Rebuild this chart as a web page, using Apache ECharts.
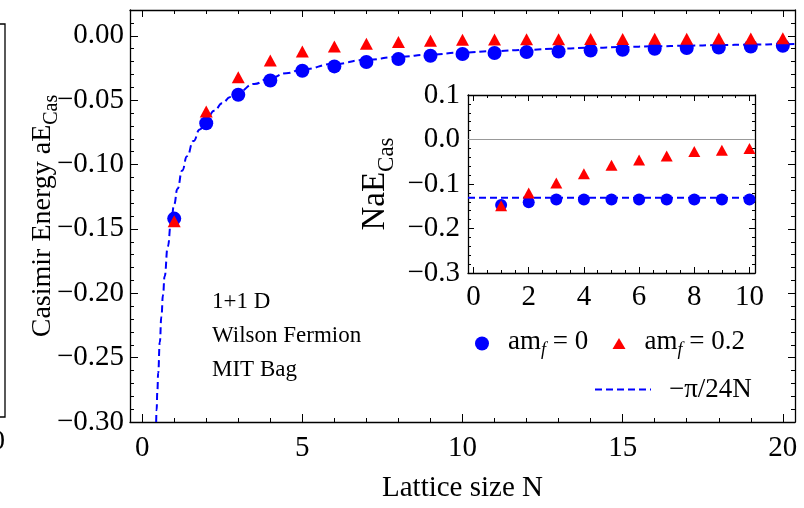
<!DOCTYPE html>
<html><head><meta charset="utf-8">
<script src="https://cdn.jsdelivr.net/npm/echarts@6/dist/echarts.min.js"></script>
<style>html,body{margin:0;padding:0;background:#fff}#c{width:804px;height:508px}</style>
</head><body><div id="c"></div>
<script>
// ---- main panel data ----
const latticeN = [1,2,3,4,5,6,7,8,9,10,11,12,13,14,15,16,17,18,19,20];
const energyMass0 = [-0.142,-0.068,-0.0458,-0.0347,-0.0272,-0.0238,-0.0204,-0.0181,-0.0155,-0.0142,-0.0134,-0.0127,-0.0122,-0.0114,-0.0109,-0.0101,-0.0096,-0.0091,-0.0083,-0.0078];
const energyMass02 = [-0.144,-0.0589,-0.0322,-0.0193,-0.0123,-0.0083,-0.0063,-0.0048,-0.0038,-0.0031,-0.0030,-0.0028,-0.0027,-0.0026,-0.0025,-0.0024,-0.0023,-0.0022,-0.0021,-0.0020];
// -pi/24N reference curve, sampled values
const curveN = [0.4363,0.45,0.475,0.5,0.55,0.6,0.65,0.7,0.8,0.9,1.0,1.1,1.25,1.4,1.6,1.8,2.0,2.25,2.5,2.75,3.0,3.5,4.0,4.5,5,6,7,8,9,10,11,12,13,14,15,16,17,18,19,20,20.38];
const curveE = [-0.3000,-0.29089,-0.27558,-0.26180,-0.23800,-0.21817,-0.20138,-0.18700,-0.16362,-0.14544,-0.13090,-0.11900,-0.10472,-0.09350,-0.08181,-0.07272,-0.06545,-0.05818,-0.05236,-0.04760,-0.04363,-0.03740,-0.03272,-0.02909,-0.02618,-0.02182,-0.01870,-0.01636,-0.01454,-0.01309,-0.01190,-0.01091,-0.01007,-0.00935,-0.00873,-0.00818,-0.00770,-0.00727,-0.00689,-0.00654,-0.00642];
// ---- inset data (N * aE) ----
const insetN = [1,2,3,4,5,6,7,8,9,10];
const insetMass0 = [-0.147,-0.141,-0.135,-0.135,-0.135,-0.135,-0.135,-0.135,-0.135,-0.135];
const insetMass02 = [-0.149,-0.120,-0.098,-0.077,-0.058,-0.046,-0.037,-0.027,-0.024,-0.020];
const insetRefN = [-0.2, 10.2];
const insetRefE = [-0.1309, -0.1309];
// ---- ticks ----
const xMajorMain = [0,5,10,15,20];
const xMinorMain = [1,2,3,4,6,7,8,9,11,12,13,14,16,17,18,19];
const yMajorMain = [-0.30,-0.25,-0.20,-0.15,-0.10,-0.05,0.00];
const yMinorMain = [-0.29,-0.28,-0.27,-0.26,-0.24,-0.23,-0.22,-0.21,-0.19,-0.18,-0.17,-0.16,-0.14,-0.13,-0.12,-0.11,-0.09,-0.08,-0.07,-0.06,-0.04,-0.03,-0.02,-0.01,0.01,0.02];
const xMajorInset = [0,2,4,6,8,10];
const xMinorInset = [0.5,1,1.5,2.5,3,3.5,4.5,5,5.5,6.5,7,7.5,8.5,9,9.5];
const yMajorInset = [-0.3,-0.2,-0.1,0.0,0.1];
const yMinorInset = [-0.28,-0.26,-0.24,-0.22,-0.18,-0.16,-0.14,-0.12,-0.08,-0.06,-0.04,-0.02,0.02,0.04,0.06,0.08];
const legendNames = ['am_f = 0','am_f = 0.2','\u2212\u03c0/24N'];
const noteLines = ['1+1 D','Wilson Fermion','MIT Bag'];

const F = 'Liberation Serif';
const BLUE = '#0000ff', RED = '#ff0000';
const zip = (a,b) => a.map((v,i)=>[v,b[i]]);
const fmt = d => v => { const s = Math.abs(v).toFixed(d); return (v < -1e-9 ? '\u2212' : '') + s; };

const mainRect = {left:130, top:10, width:665, height:412};
const insetRect = {left:468, top:95, width:287, height:178};

function axis(type, gi, pos, min, max, ticks, len, opts) {
  const a = {
    type:'value', gridIndex:gi, position:pos, min:min, max:max,
    axisLine:{show: !!(opts && opts.line), onZero:false, lineStyle:{color:'#000', width:1.3}},
    axisTick:{show:true, inside:true, length:len, customValues:ticks, lineStyle:{color:'#000', width:1}},
    axisLabel:{show:false},
    splitLine:{show:false}
  };
  if (opts && opts.labels) {
    a.axisLabel = Object.assign({show:true, customValues:ticks, color:'#000', fontFamily:F, fontSize:29}, opts.labels);
  }
  if (opts && opts.extra) Object.assign(a, opts.extra);
  return a;
}

const xMin = -0.38, xMax = 20.38, yMin = -0.30, yMax = 0.02;
const legRich = {
  p:{width:14},
  n:{fontFamily:F, fontSize:27, color:'#000', verticalAlign:'bottom', padding:[0,0,4,0]},
  f:{fontFamily:F, fontSize:18, fontStyle:'italic', color:'#000', verticalAlign:'bottom'}
};

const option = {
  animation:false,
  backgroundColor:'#fff',
  grid:[
    Object.assign({outerBoundsMode:'none', containLabel:false}, mainRect),
    Object.assign({outerBoundsMode:'none', containLabel:false}, mainRect),
    Object.assign({outerBoundsMode:'none', containLabel:false}, insetRect),
    Object.assign({outerBoundsMode:'none', containLabel:false}, insetRect),
    {outerBoundsMode:'none', containLabel:false, left:-100, top:24, width:105, height:393, show:true, borderColor:'#000', borderWidth:1.3, backgroundColor:'transparent'}
  ],
  xAxis:[
    axis('x',0,'bottom',xMin,xMax,xMajorMain,8,{line:true, labels:{margin:12}, extra:{
      name:'Lattice size N', nameLocation:'middle', nameGap:52, nameMoveOverlap:false,
      nameTextStyle:{fontFamily:F, fontSize:29, color:'#000'}}}),
    axis('x',0,'top',xMin,xMax,xMajorMain,7,{line:true}),
    axis('x',1,'bottom',xMin,xMax,xMinorMain,4),
    axis('x',1,'top',xMin,xMax,xMinorMain,4),
    axis('x',2,'bottom',-0.2,10.2,xMajorInset,6,{line:true, labels:{margin:10}}),
    axis('x',2,'top',-0.2,10.2,xMajorInset,6,{line:true}),
    axis('x',3,'bottom',-0.2,10.2,xMinorInset,3),
    axis('x',3,'top',-0.2,10.2,xMinorInset,3),
    {type:'value', gridIndex:4, show:false, min:0, max:1}
  ],
  yAxis:[
    axis('y',0,'left',yMin,yMax,yMajorMain,8,{line:true, labels:{margin:6, formatter:fmt(2)}, extra:{
      name:'{m|Casimir Energy aE}{s|Cas}', nameLocation:'middle', nameGap:68, nameRotate:90, nameMoveOverlap:false,
      nameTextStyle:{rich:{
        m:{fontFamily:F, fontSize:28, color:'#000', verticalAlign:'bottom', padding:[0,0,5,0]},
        s:{fontFamily:F, fontSize:20, color:'#000', verticalAlign:'bottom'}}}}}),
    axis('y',0,'right',yMin,yMax,yMajorMain,7,{line:true}),
    axis('y',1,'left',yMin,yMax,yMinorMain,4),
    axis('y',1,'right',yMin,yMax,yMinorMain,4),
    axis('y',2,'left',-0.3,0.1,yMajorInset,6,{line:true, labels:{margin:8, formatter:fmt(1)}, extra:{
      name:'{m|NaE}{s|Cas}', nameLocation:'middle', nameGap:70, nameRotate:90, nameMoveOverlap:false,
      nameTextStyle:{rich:{
        m:{fontFamily:F, fontSize:33, color:'#000', verticalAlign:'bottom', padding:[0,0,6,0]},
        s:{fontFamily:F, fontSize:23, color:'#000', verticalAlign:'bottom'}}}}}),
    axis('y',2,'right',-0.3,0.1,yMajorInset,6,{line:true}),
    axis('y',3,'left',-0.3,0.1,yMinorInset,3),
    axis('y',3,'right',-0.3,0.1,yMinorInset,3),
    {type:'value', gridIndex:4, position:'right', min:0, max:30.2, interval:1,
      axisLine:{show:false}, axisTick:{show:true, inside:true, length:3, lineStyle:{color:'#000'}},
      axisLabel:{show:false}, splitLine:{show:false}}
  ],
  legend:[
    {data:[legendNames[0]], left:475, top:328, padding:0, itemWidth:14, itemHeight:14, selectedMode:false,
      formatter:()=> '{p|}{n|am}{f|f}{n| = 0}', textStyle:{rich:legRich}},
    {data:[legendNames[1]], left:612.5, top:328, padding:0, itemWidth:13, itemHeight:11, selectedMode:false,
      formatter:()=> '{p|}{n|am}{f|f}{n| = 0.2}', textStyle:{rich:legRich}},
    {data:[legendNames[2]], left:594, top:376, padding:0, itemWidth:56, itemHeight:14, selectedMode:false,
      itemStyle:{opacity:0},
      formatter:(n)=> '{p|}{m|' + n + '}',
      textStyle:{rich:{p:{width:13}, m:{fontFamily:F, fontSize:27, color:'#000'}}}}
  ],
  graphic:[
    {type:'text', left:212, top:290, style:{text:noteLines[0], font:'23px "Liberation Serif"', fill:'#000'}},
    {type:'text', left:212, top:324, style:{text:noteLines[1], font:'23px "Liberation Serif"', fill:'#000'}},
    {type:'text', left:212, top:358, style:{text:noteLines[2], font:'23px "Liberation Serif"', fill:'#000'}},
    {type:'text', left:-9, top:428, style:{text:'0', font:'28px "Liberation Serif"', fill:'#000'}}
  ],
  series:[
    {name:legendNames[2], type:'line', xAxisIndex:0, yAxisIndex:0, data:zip(curveN, curveE),
      symbol:'none', smooth:true, smoothMonotone:'x', z:2,
      lineStyle:{color:BLUE, width:2, type:[7,4]}, itemStyle:{color:BLUE}},
    {name:legendNames[0], type:'scatter', xAxisIndex:0, yAxisIndex:0, data:zip(latticeN, energyMass0),
      symbol:'circle', symbolSize:14, itemStyle:{color:BLUE, opacity:1}, z:3},
    {name:legendNames[1], type:'scatter', xAxisIndex:0, yAxisIndex:0, data:zip(latticeN, energyMass02),
      symbol:'triangle', symbolSize:[13,12], itemStyle:{color:RED, opacity:1}, z:4},
    {name:'insetRef', type:'line', xAxisIndex:4, yAxisIndex:4, data:zip(insetRefN, insetRefE),
      symbol:'none', z:2, lineStyle:{color:BLUE, width:2, type:[7,4]},
      markLine:{silent:true, symbol:'none', label:{show:false}, z:1,
        lineStyle:{color:'#999', type:'solid', width:1}, data:[{yAxis:0}]}},
    {name:'insetMass0', type:'scatter', xAxisIndex:4, yAxisIndex:4, data:zip(insetN, insetMass0),
      symbol:'circle', symbolSize:12, itemStyle:{color:BLUE, opacity:1}, z:3},
    {name:'insetMass02', type:'scatter', xAxisIndex:4, yAxisIndex:4, data:zip(insetN, insetMass02),
      symbol:'triangle', symbolSize:[12,11], itemStyle:{color:RED, opacity:1}, z:4}
  ]
};
const chart = echarts.init(document.getElementById('c'), null, {renderer:'canvas'});
chart.setOption(option);
</script></body></html>
